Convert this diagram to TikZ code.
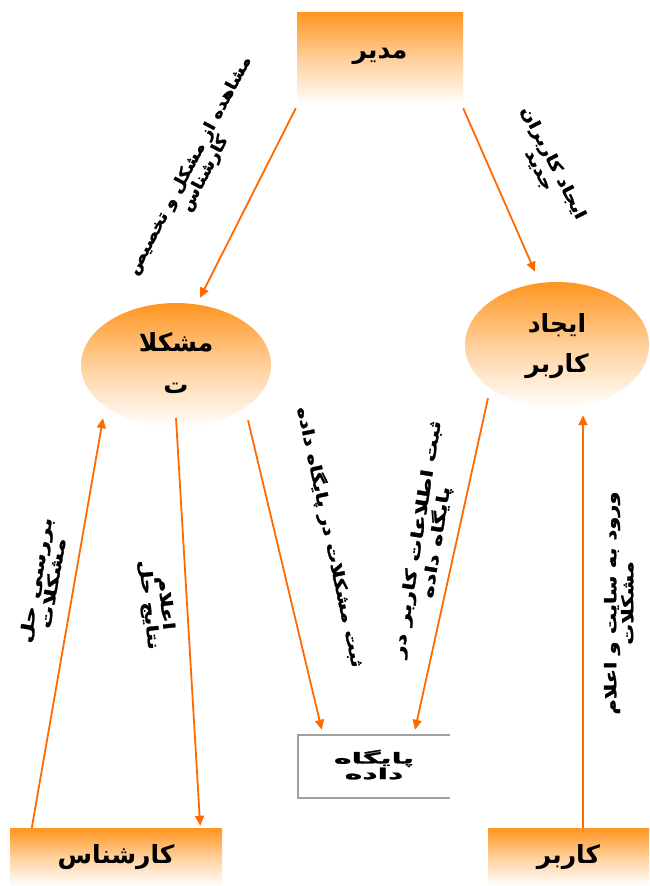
\documentclass[tikz,border=0pt]{standalone}
\usepackage{fontspec}
\usepackage{graphicx}
\usetikzlibrary{shapes.geometric,arrows.meta,calc}
\TeXXeTstate=1
\newfontfamily\arabicfont[Script=Arabic]{DejaVu Sans}
\newfontfamily\labfont[Script=Arabic, UprightFont=* Bold, FakeBold=1.6]{DejaVu Sans}
\definecolor{myor}{HTML}{FF9520}
\definecolor{arrcol}{HTML}{FF6A00}
\definecolor{dbgray}{HTML}{A0A0A0}
\newcommand\rtl[1]{\beginR #1\endR}
\newcommand\labtwo[3]{\resizebox{#1}{\height}{\begin{tabular}{@{}c@{}}\rtl{#2}\\\rtl{#3}\end{tabular}}}
\newcommand\labone[2]{\resizebox{#1}{\height}{\rtl{#2}}}
\begin{document}
\begin{tikzpicture}[x=1pt,y=-1pt,
  fade/.style={top color=myor, bottom color=white, middle color=myor!45!white},
  titlebox/.style={rectangle, fade, inner sep=0pt, font=\arabicfont\bfseries\fontsize{25}{28}\selectfont},
  titleell/.style={ellipse, fade, inner sep=0pt, align=center, font=\arabicfont\bfseries\fontsize{25}{38}\selectfont},
  arr/.style={draw=arrcol, line width=1.8pt, -{Triangle[length=10pt,width=9pt]}},
  lab/.style={inner sep=0pt, font=\labfont\fontsize{16}{16}\selectfont}]
\fill[white] (0,0) rectangle (649,886);
\useasboundingbox (0,0) rectangle (649,886);

% main boxes
\node[titlebox, minimum width=166pt, minimum height=93pt] (modir) at (380,58.5) {\raisebox{10pt}{\rtl{مدیر}}};
\node[titlebox, minimum width=212pt, minimum height=58pt] (kar) at (116,857) {\raisebox{-3pt}{\rtl{کارشناس}}};
\node[titlebox, minimum width=161pt, minimum height=58pt] (karbar) at (568.5,857) {\raisebox{-3pt}{\rtl{کاربر}}};

% ellipses
\node[titleell, minimum width=190pt, minimum height=124pt] (moshk) at (176,365) {\raisebox{-8pt}{\begin{tabular}{@{}c@{}}\rtl{مشکلا}\\[4pt]\rtl{ت}\end{tabular}}};
\node[titleell, minimum width=184pt, minimum height=126pt] (ijad) at (557,345) {\raisebox{-8pt}{\begin{tabular}{@{}c@{}}\rtl{ایجاد}\\[2pt]\rtl{کاربر}\end{tabular}}};

% data store
\node[rectangle, inner sep=0pt, minimum width=152pt, minimum height=63pt, font=\labfont\fontsize{15}{14}\selectfont] (db) at (374,766.5) {\raisebox{-4pt}{\labtwo{80pt}{پایگاه}{داده}}};
\draw[dbgray, line width=1.5pt] (db.north east) -- (db.north west) -- (db.south west) -- (db.south east);

% connectors
\draw[arr] ($(modir.south west)+(-1,3)$) -- ($(moshk.north)+(24,-5)$);
\draw[arr] ($(modir.south east)+(0,3)$) -- ($(ijad.north)+(-22,-10)$);
\draw[arr] ($(kar.north west)+(22,0)$) -- ($(moshk.south)+(-73,-9)$);
\draw[arr] ($(moshk.south)+(0,-9)$) -- ($(kar.north east)+(-22,-2)$);
\draw[arr] ($(moshk.south)+(72,-7)$) -- ($(db.north west)+(24,-5)$);
\draw[arr] ($(ijad.south)+(-69,-10)$) -- ($(db.north)+(41,-5)$);
\draw[arr] ($(karbar.north)+(14.5,0)$) -- ($(ijad.south)+(26,7)$);

% connector labels
\node[lab, rotate=62] (l1) at (198,170) {\labtwo{245pt}{مشاهده از مشکل و تخصیص}{کارشناس}};
\node[lab, rotate=-63] (l2) at (545,167) {\labtwo{124pt}{ایجاد کاربران}{جدید}};
\node[lab, rotate=-78] (l3) at (330,537) {\labone{266pt}{ثبت مشکلات در پایگاه داده}};
\node[lab, rotate=81] (l4) at (428,541) {\labtwo{240pt}{ثبت اطلاعات کاربر در}{پایگاه داده}};
\node[lab, rotate=80] (l5) at (46,582) {\labtwo{127pt}{بررسی حل}{مشکلات}};
\node[lab, rotate=-84] (l6) at (156,604) {\labtwo{90pt}{اعلام}{نتایج حل}};
\node[lab, rotate=90] (l7) at (621,603) {\labtwo{223pt}{ورود به سایت و اعلام}{مشکلات}};
\end{tikzpicture}
\end{document}
